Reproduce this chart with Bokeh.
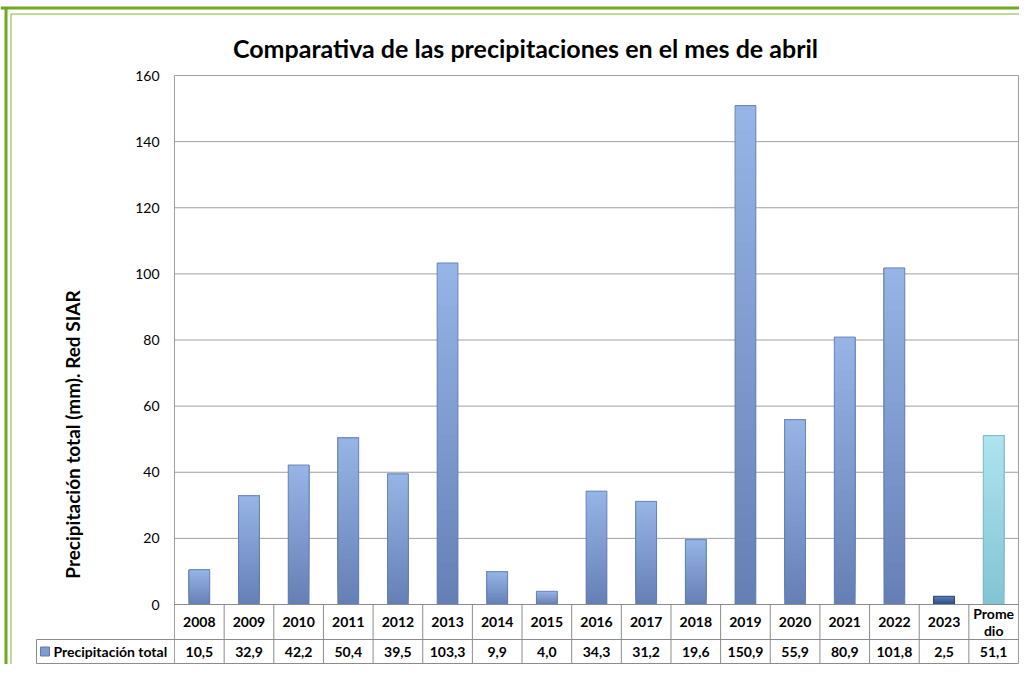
from bokeh.plotting import figure
from bokeh.models import Range1d
from bokeh.core.properties import value
from bokeh.embed import file_html
from bokeh.resources import INLINE

# ---------------- data ----------------
TITLE = "Comparativa de las precipitaciones en el mes de abril"
Y_LABEL = "Precipitación total (mm). Red SIAR"
SERIES_NAME = "Precipitación total"
categories = ["2008", "2009", "2010", "2011", "2012", "2013", "2014", "2015",
              "2016", "2017", "2018", "2019", "2020", "2021", "2022", "2023",
              "Prome\ndio"]
values = [10.5, 32.9, 42.2, 50.4, 39.5, 103.3, 9.9, 4.0,
          34.3, 31.2, 19.6, 150.9, 55.9, 80.9, 101.8, 2.5, 51.1]
y_ticks = [0, 20, 40, 60, 80, 100, 120, 140, 160]

# ---------------- styles ----------------
FONT = "Lato"
REG = ("#96b4e6", "#6680b6", "#6079aa")      # top, bottom, edge
DARK = ("#5a7bb4", "#2f4e86", "#26416f")
LIGHT = ("#aee3ef", "#83c4d4", "#76afbe")
bar_styles = [REG] * 15 + [DARK, LIGHT]
GRID = "#a0a0a0"
TABLE = "#8c8c8c"
GREEN_OUT = "#6fa823"
GREEN_IN = "#7fb435"

# ---------------- layout (canvas px) ----------------
W, H = 1019, 664
AX_L, AX_R = 174, 1018          # x=0 and x=n in canvas px
ZERO_Y, TOP_Y = 604, 75         # y=0 and y=160 in canvas px
ROW_PX, BOT_PX = 639, 663       # table row boundary and bottom
LAB_PX = 36                     # left edge of the label cell
n = len(categories)
PXX = (AX_R - AX_L) / n
PXY = (ZERO_Y - TOP_Y) / y_ticks[-1]
X0, X1 = -AX_L / PXX, (W - AX_L) / PXX
Y0, Y1 = -(H - ZERO_Y) / PXY, ZERO_Y / PXY
ROW_Y = -(ROW_PX - ZERO_Y) / PXY
BOT_Y = -(BOT_PX - ZERO_Y) / PXY
LAB_L = (LAB_PX - AX_L) / PXX
ROW1_C = ROW_Y / 2
ROW2_C = (ROW_Y + BOT_Y) / 2

p = figure(width=W, height=H, x_range=Range1d(X0, X1), y_range=Range1d(Y0, Y1),
           min_border=0, x_axis_location=None, y_axis_location=None,
           toolbar_location=None, output_backend="svg", title=None,
           outline_line_color=None, background_fill_color="white",
           border_fill_color="white")
p.grid.visible = False


def lerp(c1, c2, t):
    a = [int(c1[i:i + 2], 16) for i in (1, 3, 5)]
    b = [int(c2[i:i + 2], 16) for i in (1, 3, 5)]
    return "#%02x%02x%02x" % tuple(round(a[k] + (b[k] - a[k]) * t) for k in range(3))


# gridlines
gy = y_ticks[1:]
p.segment(x0=[0] * len(gy), x1=[n] * len(gy), y0=gy, y1=gy, line_color=GRID, line_width=1)

# bars with vertical gradient (overlapping layers, bottom colour first)
BW = 0.42
N = 40
xs, bs, ts, cs = [], [], [], []
for k in range(N):
    for i, v in enumerate(values):
        top, bot, _ = bar_styles[i]
        xs.append(i + 0.5)
        bs.append(v * k / N)
        ts.append(v)
        cs.append(lerp(bot, top, k / (N - 1)))
p.vbar(x=xs, width=BW, bottom=bs, top=ts, fill_color=cs, line_color=None)
centers = [i + 0.5 for i in range(n)]
p.vbar(x=centers, width=BW, bottom=0, top=values, fill_color=None,
       line_color=[s[2] for s in bar_styles], line_width=1, line_alpha=0.8)

# axes frame / table lines
p.segment(x0=[0, n], x1=[0, n], y0=[BOT_Y, BOT_Y], y1=[y_ticks[-1]] * 2,
          line_color=GRID, line_width=1)
p.segment(x0=[0, LAB_L, LAB_L], x1=[n, n, n], y0=[0, ROW_Y, BOT_Y], y1=[0, ROW_Y, BOT_Y],
          line_color=TABLE, line_width=1)
vx = list(range(1, n))
p.segment(x0=vx, x1=vx, y0=[BOT_Y] * len(vx), y1=[0] * len(vx), line_color=TABLE, line_width=1)
p.segment(x0=[LAB_L], x1=[LAB_L], y0=[BOT_Y], y1=[ROW_Y], line_color=TABLE, line_width=1)

# y tick labels
p.text(x=[0] * len(y_ticks), y=y_ticks, text=[str(t) for t in y_ticks], x_offset=-15,
       text_align="right", text_baseline="middle", text_font=value(FONT),
       text_font_size="14px", text_color="#000000")

# y axis title
p.text(x=[0], y=[(ZERO_Y - 434) / PXY], text=[Y_LABEL], x_offset=72 - AX_L,
       angle=1.5707963, text_align="center", text_baseline="middle",
       text_font=value(FONT), text_font_style="bold", text_font_size="19px",
       text_color="#000000")

# chart title
p.text(x=[0], y=[y_ticks[-1]], text=[TITLE], x_offset=525 - AX_L, y_offset=47 - TOP_Y,
       text_align="center", text_baseline="middle", text_font=value(FONT),
       text_font_style="bold", text_font_size="25px", text_color="#000000")

# table texts
p.text(x=centers, y=[ROW1_C] * n, text=categories, text_align="center",
       text_baseline="middle", text_font=value(FONT), text_font_style="bold",
       text_font_size="14px", text_color="#000000", text_line_height=1.0)
value_labels = [f"{v:.1f}".replace(".", ",") for v in values]
p.text(x=centers, y=[ROW2_C] * n, text=value_labels, text_align="center",
       text_baseline="middle", text_font=value(FONT), text_font_style="bold",
       text_font_size="14px", text_color="#000000")
p.text(x=[LAB_L], y=[ROW2_C], text=[SERIES_NAME], x_offset=17, text_align="left",
       text_baseline="middle", text_font=value(FONT), text_font_style="bold",
       text_font_size="14px", text_color="#000000")
p.scatter(x=[LAB_L + 8.5 / PXX], y=[ROW2_C], marker="square", size=9,
          fill_color="#7f9bd0", line_color=REG[2], line_width=1)

# green border (left and top)
p.segment(x0=[X0 + 5.5 / PXX, X0], x1=[X0 + 5.5 / PXX, X1],
          y0=[Y0, Y1 - 7.5 / PXY], y1=[Y1 - 7.5 / PXY, Y1 - 7.5 / PXY],
          line_color=GREEN_OUT, line_width=3)
p.segment(x0=[X0 + 10.5 / PXX, X0 + 10.5 / PXX], x1=[X0 + 10.5 / PXX, X1],
          y0=[Y0, Y1 - 13.5 / PXY], y1=[Y1 - 13.5 / PXY, Y1 - 13.5 / PXY],
          line_color=GREEN_IN, line_width=1)

open("out.html", "w").write(file_html(p, INLINE))
